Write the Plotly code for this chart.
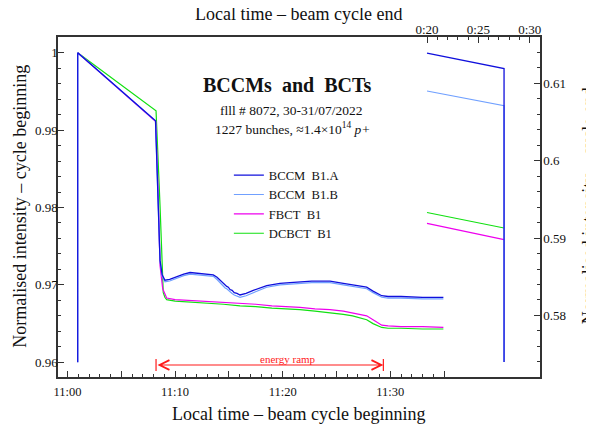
import plotly.graph_objects as go

# ---------------- data ----------------
# Left part: minutes after 11:00 (local time, beam cycle beginning)
t_bccm_a = [0.95, 0.95, 8.18, 8.40, 8.60, 8.80, 9.06, 9.50, 10.20, 10.80, 11.39, 12.20, 12.94, 13.55,
            13.90, 14.18, 14.35, 14.50, 14.65, 14.80, 14.95, 15.11, 15.30, 15.50, 15.75, 16.04, 16.60,
            17.27, 18.52, 19.75, 20.68, 21.61, 22.70, 23.78, 24.40, 25.64, 26.88, 27.81, 28.40, 28.74,
            29.21, 29.80, 31.00, 33.00, 34.94]
v_bccm_a = [0.9600, 1.0000, 0.9912, 0.9825, 0.9732, 0.9713, 0.9706, 0.9707, 0.9711, 0.9714, 0.9716, 0.9715,
            0.9714, 0.9713, 0.9710, 0.9706, 0.9704, 0.9702, 0.9700, 0.9698, 0.9697, 0.9694, 0.9693, 0.9690,
            0.9689, 0.9687, 0.9689, 0.9693, 0.9699, 0.9702, 0.9703, 0.9704, 0.9705, 0.9705, 0.9705, 0.9702,
            0.9699, 0.9697, 0.9692, 0.9689, 0.9686, 0.9685, 0.9685, 0.9684, 0.9684]
t_bccm_b = t_bccm_a
v_bccm_b = [0.9600, 1.0000, 0.9912, 0.9824, 0.9730, 0.9711, 0.9704, 0.9705, 0.9709, 0.9712, 0.9714, 0.9713,
            0.9712, 0.9711, 0.9707, 0.9703, 0.9700, 0.9699, 0.9696, 0.9695, 0.9693, 0.9691, 0.9689, 0.9687,
            0.9686, 0.9684, 0.9686, 0.9690, 0.9697, 0.9700, 0.9701, 0.9702, 0.9703, 0.9703, 0.9703, 0.9700,
            0.9697, 0.9695, 0.9690, 0.9687, 0.9684, 0.9683, 0.9683, 0.9682, 0.9682]
t_fbct = [0.95, 8.20, 8.40, 8.60, 8.85, 9.22, 10.00, 11.39, 12.94, 14.50, 16.04, 17.50, 19.00, 20.68,
          21.61, 23.00, 24.40, 25.64, 26.50, 27.81, 28.40, 28.74, 29.21, 29.80, 31.00, 33.00, 34.94]
v_fbct = [1.0000, 0.9911, 0.9830, 0.9725, 0.9695, 0.9683, 0.9681, 0.9680, 0.9678, 0.9677, 0.9676, 0.9675,
          0.9673, 0.9672, 0.9671, 0.9669, 0.9668, 0.9666, 0.9664, 0.9660, 0.9655, 0.9652, 0.9648, 0.9647,
          0.9646, 0.9646, 0.9645]
t_dcbct = [0.95, 8.23, 8.60, 8.90, 9.05, 9.22, 10.00, 11.39, 12.94, 14.50, 16.04, 17.50, 19.00, 20.68,
           21.61, 23.00, 24.40, 25.64, 26.50, 27.81, 28.40, 28.74, 29.21, 29.80, 31.00, 33.00, 34.94]
v_dcbct = [1.0000, 0.9925, 0.9803, 0.9690, 0.9684, 0.9681, 0.9679, 0.9678, 0.9676, 0.9675, 0.9673, 0.9672,
           0.9670, 0.9669, 0.9668, 0.9666, 0.9664, 0.9662, 0.9660, 0.9655, 0.9650, 0.9648, 0.9645, 0.9644,
           0.9644, 0.9643, 0.9643]

# Right part: minutes after 0:00 (local time, beam cycle end)
t_end_a = [20.0, 27.5, 27.5]
v_end_a = [0.6139, 0.6119, 0.5740]
t_end_b = [20.0, 27.5, 27.5]
v_end_b = [0.6090, 0.6071, 0.5740]
t_end_fbct = [20.0, 27.5]
v_end_fbct = [0.5919, 0.5898]
t_end_dcbct = [20.0, 27.5]
v_end_dcbct = [0.5933, 0.5913]

# axis ticks
x1_major = [0, 5, 10, 15, 20, 25, 30, 35]
x1_labels = ["11:00", "", "11:10", "", "11:20", "", "11:30", ""]
x2_major = [20, 25, 30]
x2_labels = ["0:20", "0:25", "0:30"]
y1_major = [0.96, 0.97, 0.98, 0.99, 1.0]
y1_labels = ["0.96", "0.97", "0.98", "0.99", "1"]
y2_major = [0.58, 0.59, 0.60, 0.61]
y2_labels = ["0.58", "0.59", "0.6", "0.61"]

ramp_start = 8.23
ramp_end = 29.36

# ---------------- styles ----------------
C_A = "#1010dc"
C_B = "#70a0ff"
C_F = "#ee00ee"
C_D = "#11e011"
AX = "#333333"
FONT = "Liberation Serif"

fig = go.Figure()

# left part (bottom / left axes)
fig.add_trace(go.Scatter(x=t_dcbct, y=v_dcbct, mode="lines", name="DCBCT\u00a0\u00a0B1",
                         line=dict(color=C_D, width=1.2), legendrank=4))
fig.add_trace(go.Scatter(x=t_fbct, y=v_fbct, mode="lines", name="FBCT\u00a0\u00a0B1",
                         line=dict(color=C_F, width=1.2), legendrank=3))
fig.add_trace(go.Scatter(x=t_bccm_b, y=v_bccm_b, mode="lines", name="BCCM\u00a0\u00a0B1.B",
                         line=dict(color=C_B, width=1.2), legendrank=2))
fig.add_trace(go.Scatter(x=t_bccm_a, y=v_bccm_a, mode="lines", name="BCCM\u00a0\u00a0B1.A",
                         line=dict(color=C_A, width=1.3), legendrank=1))

# right part (top / right axes)
fig.add_trace(go.Scatter(x=t_end_dcbct, y=v_end_dcbct, mode="lines", xaxis="x2", yaxis="y2",
                         line=dict(color=C_D, width=1.2), showlegend=False))
fig.add_trace(go.Scatter(x=t_end_fbct, y=v_end_fbct, mode="lines", xaxis="x2", yaxis="y2",
                         line=dict(color=C_F, width=1.2), showlegend=False))
fig.add_trace(go.Scatter(x=t_end_b, y=v_end_b, mode="lines", xaxis="x2", yaxis="y2",
                         line=dict(color=C_B, width=1.2), showlegend=False))
fig.add_trace(go.Scatter(x=t_end_a, y=v_end_a, mode="lines", xaxis="x2", yaxis="y2",
                         line=dict(color=C_A, width=1.3), showlegend=False))

tickfont = dict(family=FONT, size=13, color="#111")

fig.update_layout(
    width=586, height=418,
    margin=dict(l=50, r=54, t=29, b=49, pad=0),
    paper_bgcolor="white", plot_bgcolor="white",
    font=dict(family=FONT, color="#111"),
    xaxis=dict(range=[-0.883, 43.92], tickmode="array", tickvals=x1_major, ticktext=x1_labels,
               ticks="inside", ticklen=6, tickwidth=1, tickcolor=AX, ticklabelstandoff=2,
               showline=True, linecolor=AX, linewidth=1.5, showgrid=False, zeroline=False,
               tickfont=dict(family=FONT, size=12.5, color="#111"),
               minor=dict(tickvals=[m for m in range(1, 35) if m % 5], ticks="inside",
                          ticklen=3.5, tickwidth=1, tickcolor=AX, showgrid=False)),
    xaxis2=dict(range=[-15.93, 31.0], overlaying="x", side="top", anchor="y",
                tickmode="array", tickvals=x2_major, ticktext=x2_labels,
                ticks="inside", ticklen=6, tickwidth=1, tickcolor=AX, ticklabelstandoff=-4,
                showline=True, linecolor=AX, linewidth=1.5, showgrid=False, zeroline=False,
                tickfont=dict(family=FONT, size=13, color="#111"),
                minor=dict(tickvals=[m for m in range(21, 30) if m % 5], ticks="inside",
                           ticklen=3.5, tickwidth=1, tickcolor=AX, showgrid=False)),
    yaxis=dict(range=[0.9581, 1.00203], tickmode="array", tickvals=y1_major, ticktext=y1_labels,
               ticks="inside", ticklen=6, tickwidth=1, tickcolor=AX, ticklabelstandoff=-4,
               showline=True, linecolor=AX, linewidth=1.5, showgrid=False, zeroline=False,
               tickfont=tickfont,
               minor=dict(tickvals=[round(0.962 + 0.002 * i, 3) for i in range(19) if (i + 1) % 5],
                          ticks="inside", ticklen=3.5, tickwidth=1, tickcolor=AX, showgrid=False)),
    yaxis2=dict(range=[0.57205, 0.61598], overlaying="y", side="right", anchor="x",
                tickmode="array", tickvals=y2_major, ticktext=y2_labels,
                ticks="inside", ticklen=6, tickwidth=1, tickcolor=AX, ticklabelstandoff=-1,
                showline=True, linecolor=AX, linewidth=1.5, showgrid=False, zeroline=False,
                tickfont=tickfont,
                minor=dict(tickvals=[round(0.574 + 0.002 * i, 3) for i in range(21) if (i + 2) % 5],
                           ticks="inside", ticklen=3.5, tickwidth=1, tickcolor=AX, showgrid=False)),
    legend=dict(x=0.3545, y=0.637, xanchor="left", yanchor="top", bgcolor="rgba(0,0,0,0)",
                font=dict(family=FONT, size=12.6, color="#111"), tracegroupgap=0),
    showlegend=True,
)

ann = []
# axis titles
ann.append(dict(text="Local time \u2013 beam cycle beginning", xref="paper", yref="paper",
                x=0.4985, y=-0.1088, xanchor="center", yanchor="middle", showarrow=False,
                font=dict(family=FONT, size=18, color="#111")))
ann.append(dict(text="Local time \u2013 beam cycle end", xref="paper", yref="paper",
                x=0.4985, y=1.0676, xanchor="center", yanchor="middle", showarrow=False,
                font=dict(family=FONT, size=18, color="#111")))
ann.append(dict(text="Normalised intensity \u2013 cycle beginning", xref="paper", yref="paper",
                x=-0.0788, y=0.501, xanchor="center", yanchor="middle", textangle=-90, showarrow=False,
                font=dict(family=FONT, size=18, color="#111")))
ann.append(dict(text="Normalised intensity \u2013 cycle end", xref="paper", yref="paper",
                x=1.1016, y=0.505, xanchor="center", yanchor="middle", textangle=-90, showarrow=False,
                font=dict(family=FONT, size=18, color="#111")))
# titles inside plot
ann.append(dict(text="<b>BCCMs\u00a0\u00a0and\u00a0\u00a0BCTs</b>", xref="paper", yref="paper",
                x=0.4745, y=0.8588, xanchor="center", yanchor="middle", showarrow=False,
                font=dict(family=FONT, size=20, color="#111")))
ann.append(dict(text="flll # 8072, 30-31/07/2022", xref="paper", yref="paper",
                x=0.484, y=0.7824, xanchor="center", yanchor="middle", showarrow=False,
                font=dict(family=FONT, size=13.5, color="#111")))
ann.append(dict(text="1227 bunches, \u22481.4\u00d710<sup>14</sup> <i>p+</i>", xref="paper", yref="paper",
                x=0.4855, y=0.7315, xanchor="center", yanchor="middle", showarrow=False,
                font=dict(family=FONT, size=13.5, color="#111")))
# energy ramp arrow
ARROW_Y = 0.95965
ann.append(dict(text="", x=ramp_end, y=ARROW_Y, ax=ramp_start, ay=ARROW_Y, xref="x", yref="y",
                axref="x", ayref="y", showarrow=True, arrowhead=5, arrowsize=1.6, arrowwidth=1.2,
                arrowcolor="#ff1a1a", arrowside="end+start", startarrowhead=5, startarrowsize=1.6))
ann.append(dict(text="energy ramp", xref="x", yref="paper", x=(ramp_start + ramp_end) / 2 + 1.7,
                y=0.0529, xanchor="center", yanchor="middle", showarrow=False,
                font=dict(family=FONT, size=11, color="#ff1a1a")))
fig.update_layout(annotations=ann)

fig.update_layout(shapes=[
    dict(type="line", xref="x", yref="y", x0=ramp_start, x1=ramp_start, ysizemode="pixel",
         yanchor=ARROW_Y, y0=-6, y1=6, line=dict(color="#ff1a1a", width=1.2)),
    dict(type="line", xref="x", yref="y", x0=ramp_end, x1=ramp_end, ysizemode="pixel",
         yanchor=ARROW_Y, y0=-6, y1=6, line=dict(color="#ff1a1a", width=1.2)),
])

fig.write_html("out.html")
